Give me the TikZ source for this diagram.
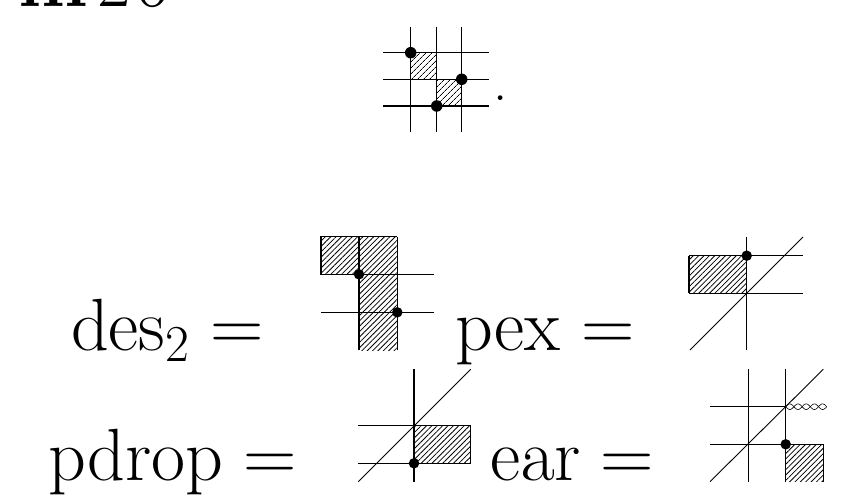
\documentclass[tikz,border=0pt]{standalone}
\usepackage{fix-cm}
\usetikzlibrary{patterns.meta}
\begin{document}
\begin{tikzpicture}[x=1pt,y=-1pt,
  gridline/.style={line width=1.1pt},
  hatchA/.style={pattern={Lines[angle=45,distance=4pt,line width=0.8pt]}},
  hatchB/.style={pattern={Lines[angle=45,distance=3.8pt,line width=0.8pt]}},
  dotA/.style={fill=black,circle,inner sep=0pt,minimum size=11.5pt},
  dotB/.style={fill=black,circle,inner sep=0pt,minimum size=10.5pt},
  lbl/.style={anchor=base west,inner sep=0pt,font=\fontsize{74}{88}\selectfont}]
\useasboundingbox (0,0) rectangle (841,503);
\begin{scope}
\clip (0,0) rectangle (841,503);
\node[lbl] (tin) at (18,7) {\textbf{in}};
\node[lbl] (ttwo) at (97,7) {2};
\node[lbl] (tsix) at (135,7) {6};
\end{scope}
% top grid
\fill[hatchA] (410.7,52.7) rectangle (436.7,79.3);
\fill[hatchA] (436.7,79.3) rectangle (461.7,106);
\foreach \xx in {410.7,436.7,461.7} \draw[gridline] (\xx,26.7) -- (\xx,131.7);
\foreach \yy in {52.7,79.3,106} \draw[gridline] (383.3,\yy) -- (489.3,\yy);
\node[dotA] (ta) at (410.7,52.7) {};
\node[dotA] (tb) at (461.7,79.3) {};
\node[dotA] (tc) at (436.7,106) {};
\node[anchor=base west,inner sep=0pt,font=\fontsize{57}{68}\selectfont] (per) at (492.8,100.2) {.};
% des_2
\node[lbl] (des) at (71,350) {$\mathrm{des}_2 =$};
\fill[hatchB] (321,236.7) rectangle (397.3,274.3);
\fill[hatchB] (359,274.3) rectangle (397.3,350);
\draw[gridline] (359,274.3) -- (321,274.3) -- (321,236.7) -- (397.3,236.7);
\draw[gridline] (359,236.7) -- (359,350);
\draw[gridline] (397.3,236.7) -- (397.3,350);
\draw[gridline] (321,274.3) -- (434,274.3);
\draw[gridline] (321,312.3) -- (434,312.3);
\node[dotB] (da) at (359,274.3) {};
\node[dotB] (db) at (397.3,312.3) {};
% pex
\node[lbl] (pex) at (455,350) {$\mathrm{pex} =$};
\fill[hatchB] (689,255.7) rectangle (746.7,293.3);
\draw[gridline] (689,255.7) -- (802.7,255.7);
\draw[gridline] (689,293.3) -- (802.7,293.3);
\draw[gridline] (689,255.7) -- (689,293.3);
\draw[gridline] (746.7,236.7) -- (746.7,350);
\draw[line width=0.9pt] (690,350) -- (803,237);
\node[dotB] (pa) at (746.7,255.7) {};
% pdrop
\node[lbl] (pdrop) at (48,480) {$\mathrm{pdrop} =$};
\fill[hatchB] (414,425.7) rectangle (470.7,463.3);
\draw[gridline] (358.3,425.7) -- (470.7,425.7) -- (470.7,463.3) -- (358.3,463.3);
\draw[gridline] (414,369.3) -- (414,481.7);
\draw[line width=0.9pt] (358.3,481.7) -- (470.7,369.3);
\node[dotB] (qa) at (414,463.3) {};
% ear
\node[lbl] (ear) at (490,480) {$\mathrm{ear} =$};
\fill[hatchB] (785.7,444.3) rectangle (823.3,481.7);
\draw[gridline] (748.3,369.3) -- (748.3,481.7);
\draw[gridline] (785.7,369.3) -- (785.7,481.7);
\draw[gridline] (710,406.7) -- (785.7,406.7);
\draw[gridline] (710,444.3) -- (823.3,444.3) -- (823.3,481.7);
\draw[line width=0.9pt] (710,481.7) -- (823.3,369.3);
\draw[line width=0.6pt] plot[domain=0:41,samples=90] ({785.7+\x},{406.7+2.8*sin(\x*360/16.4)});
\draw[line width=0.6pt] plot[domain=0:41,samples=90] ({785.7+\x},{406.7-2.8*sin(\x*360/16.4)});
\node[dotB] (ea) at (785.7,444.3) {};
\end{tikzpicture}
\end{document}
